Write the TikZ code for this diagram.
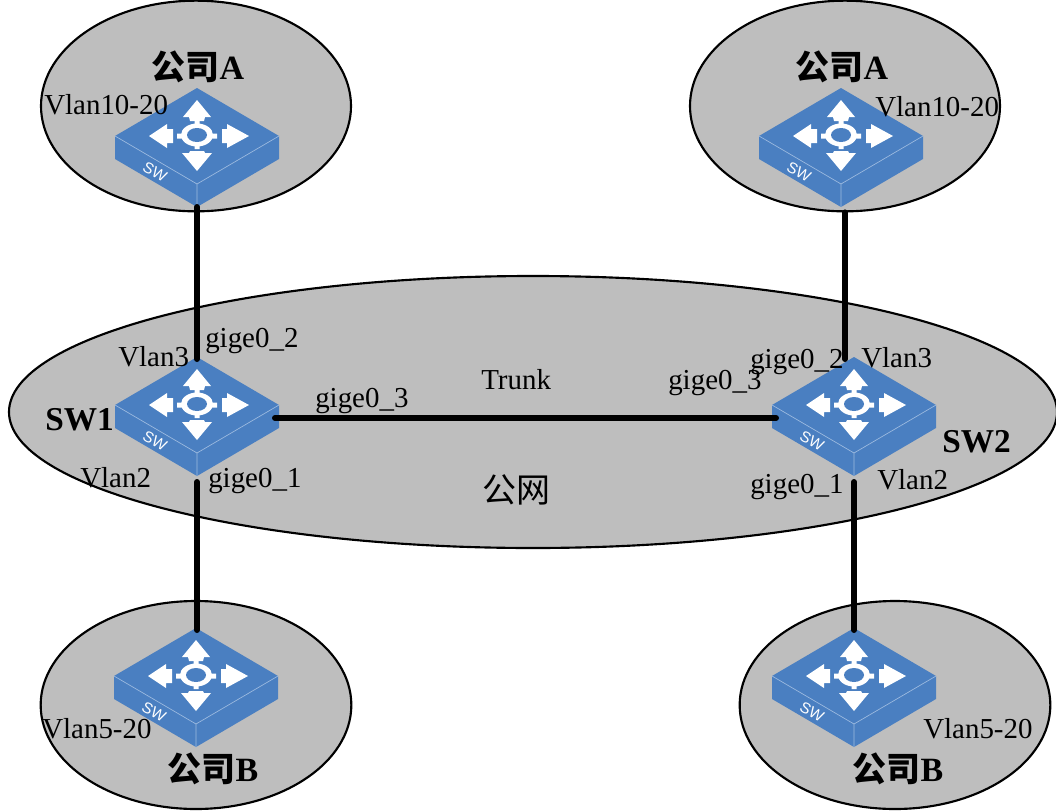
\documentclass[tikz,border=0pt]{standalone}
\usepackage{fontspec}
\setmainfont{Liberation Serif}
\setsansfont{Liberation Sans}
\newfontfamily\cjk{Noto Sans CJK SC}
\usetikzlibrary{shapes.geometric}
\definecolor{swblue}{HTML}{4A7FC1}
\definecolor{swedge}{HTML}{9DBBE0}
\definecolor{cloudgrey}{HTML}{BEBEBE}
\tikzset{
  cloud/.style={ellipse,draw=black,line width=1.6pt,fill=cloudgrey,inner sep=0pt,minimum width=#1},
  link/.style={draw=black,line width=4.5pt,line cap=round},
  lab/.style={inner sep=0pt,anchor=base west,font=\fontsize{21.7}{24}\selectfont,text=black},
  cjklab/.style={inner sep=0pt,anchor=base,font=\fontsize{25.5}{28}\selectfont\bfseries,text=black},
  namelab/.style={inner sep=0pt,anchor=base west,font=\fontsize{25}{28}\selectfont\bfseries,text=black},
  switch/.pic={
    \fill[swblue] (0,-48) -- (82,0) -- (82,23) -- (0,71) -- (-82,23) -- (-82,0) -- cycle;
    \draw[swedge,line width=.5pt] (-82,0) -- (0,48) -- (82,0) (0,48) -- (0,71);
    \fill[white] (0,-36) -- (14,-19) -- (8,-19) -- (7,-15) -- (-7,-15) -- (-8,-19) -- (-14,-19) -- cycle;
    \fill[white] (0,35) -- (15,17) -- (8,17) -- (7,15) -- (-7,15) -- (-8,17) -- (-15,17) -- cycle;
    \fill[white] (-48,0) -- (-30,-12) -- (-30,-7) -- (-24,-7) -- (-24,7) -- (-30,7) -- (-30,12) -- cycle;
    \fill[white] (52,0) -- (30,-12) -- (30,-7) -- (25,-7) -- (25,7) -- (30,7) -- (30,12) -- cycle;
    \fill[white] (-20,-2.5) rectangle (20,2.5) (-2.5,-15) rectangle (2.5,13);
    \fill[white] (0,-1) ellipse [x radius=16,y radius=11.5];
    \fill[swblue] (0,-1) ellipse [x radius=10,y radius=7];
    \node[rotate=-29,text=white,inner sep=0pt,font=\fontsize{11.5}{12}\selectfont\sffamily] at (-42,36) {SW};
    \coordinate (-top) at (0,-46);
    \coordinate (-bottom) at (0,71);
    \coordinate (-right) at (78,13);
    \coordinate (-left) at (-78,13);
  }
}
\begin{document}
\begin{tikzpicture}[x=.75pt,y=-.75pt]
\useasboundingbox (0,0) rectangle (1056,810);
\begin{scope}
\clip (0,0) rectangle (1056,810);
\node[cloud=232.5pt,minimum height=158pt] (etl) at (196,106) {};
\node[cloud=232.5pt,minimum height=158pt] (etr) at (845,106) {};
\node[cloud=786pt,minimum height=204pt] (emid) at (533,412) {};
\node[cloud=233pt,minimum height=156pt] (ebl) at (196,705) {};
\node[cloud=233pt,minimum height=156pt] (ebr) at (895,705) {};
\pic (s1) at (197,136) {switch};
\pic (s2) at (841,136) {switch};
\pic (c) at (197,405) {switch};
\pic (d) at (854,405) {switch};
\pic (s3) at (196,676) {switch};
\pic (s4) at (854,676) {switch};
\end{scope}
\draw[link] (s1-bottom) -- (c-top);
\draw[link] (etr.south) -- (etr.south |- d-top);
\draw[link] (c-right) -- (d-left);
\draw[link] (c-bottom) ++(0,6) -- (c-bottom |- s3-top);
\draw[link] (d-bottom) ++(0,6) -- (s4-top);
\node[cjklab] (t1) at (198,79) {{\cjk 公司}A};
\node[cjklab] (t2) at (842,79) {{\cjk 公司}A};
\node[cjklab] (t3) at (213,781) {{\cjk 公司}B};
\node[cjklab] (t4) at (898,781) {{\cjk 公司}B};
\node[lab] (v1) at (44,114) {Vlan10-20};
\node[lab] (v2) at (875,116) {Vlan10-20};
\node[lab] (v3) at (42,738) {Vlan5-20};
\node[lab] (v4) at (923,738) {Vlan5-20};
\node[namelab] (n1) at (45,430) {SW1};
\node[namelab] (n2) at (942,452) {SW2};
\node[lab] (a1) at (118,366) {Vlan3};
\node[lab] (a2) at (205,347) {gige0\_2};
\node[lab] (a3) at (315,407) {gige0\_3};
\node[lab] (a4) at (481,389) {Trunk};
\node[lab] (a5) at (668,389) {gige0\_3};
\node[lab] (a6) at (750,368) {gige0\_2};
\node[lab] (a7) at (861,367) {Vlan3};
\node[lab] (a8) at (80,487) {Vlan2};
\node[lab] (a9) at (208,487) {gige0\_1};
\node[lab] (a10) at (750,493) {gige0\_1};
\node[lab] (a11) at (877,489) {Vlan2};
\node[inner sep=0pt,anchor=base,font=\fontsize{25.5}{28}\selectfont\cjk] (pub) at (516,502) {公网};
\end{tikzpicture}
\end{document}
